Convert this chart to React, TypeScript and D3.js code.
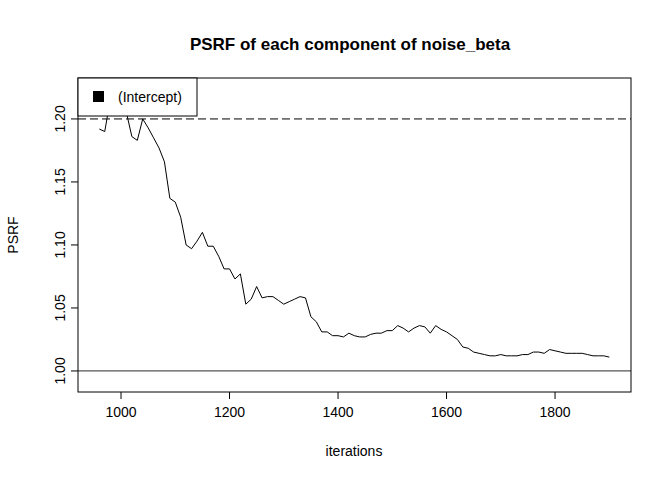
import React from "react";
import * as d3 from "d3";

const iterations = [960,970,980,990,1000,1010,1020,1030,1040,1050,1060,1070,1080,1090,1100,1110,1120,1130,1140,1150,1160,1170,1180,1190,1200,1210,1220,1230,1240,1250,1260,1270,1280,1290,1300,1310,1320,1330,1340,1350,1360,1370,1380,1390,1400,1410,1420,1430,1440,1450,1460,1470,1480,1490,1500,1510,1520,1530,1540,1550,1560,1570,1580,1590,1600,1610,1620,1630,1640,1650,1660,1670,1680,1690,1700,1710,1720,1730,1740,1750,1760,1770,1780,1790,1800,1810,1820,1830,1840,1850,1860,1870,1880,1890,1900];
const psrf = [1.192,1.190,1.215,1.22,1.212,1.205,1.186,1.183,1.200,1.193,1.185,1.177,1.166,1.137,1.134,1.122,1.100,1.097,1.103,1.110,1.099,1.099,1.091,1.081,1.081,1.073,1.077,1.053,1.057,1.067,1.058,1.059,1.059,1.056,1.053,1.055,1.057,1.059,1.058,1.043,1.039,1.031,1.031,1.028,1.028,1.027,1.030,1.028,1.027,1.027,1.029,1.030,1.030,1.032,1.032,1.036,1.034,1.031,1.034,1.036,1.035,1.030,1.036,1.033,1.031,1.028,1.025,1.019,1.018,1.015,1.014,1.013,1.012,1.012,1.013,1.012,1.012,1.012,1.013,1.013,1.015,1.015,1.014,1.017,1.016,1.015,1.014,1.014,1.014,1.014,1.013,1.012,1.012,1.012,1.011];
const xTicks = [1000, 1200, 1400, 1600, 1800];
const yTicks = [1.0, 1.05, 1.1, 1.15, 1.2];

export default function App() {
  const L = 78, R = 631, T = 78, B = 392;
  const x = d3.scaleLinear().domain([920.7, 1940]).range([L, R]);
  const y = d3.scaleLinear().domain([0.9833, 1.2325]).range([B, T]);
  const pts: [number, number][] = iterations.map((it, i) => [it, psrf[i]]);
  const line = d3.line<[number, number]>().x(d => x(d[0])).y(d => y(d[1]));
  const font = "Liberation Sans, Arial, sans-serif";
  return (
    <svg width={672} height={480} style={{ position: "absolute", left: 0, top: 0, background: "#fff" }} fontFamily={font}>
      <defs>
        <clipPath id="c"><rect x={L} y={T} width={R - L} height={B - T} /></clipPath>
      </defs>
      <text x={350} y={50} textAnchor="middle" fontSize={17} fontWeight="bold">PSRF of each component of noise_beta</text>
      <g clipPath="url(#c)">
        <path d={line(pts) || ""} fill="none" stroke="#000" strokeWidth={1} />
        <line x1={L} x2={R} y1={y(1.2)} y2={y(1.2)} stroke="#000" strokeDasharray="8,4" />
        <line x1={L} x2={R} y1={y(1.0)} y2={y(1.0)} stroke="#555" strokeWidth={1.2} />
      </g>
      <rect x={L} y={T} width={R - L} height={B - T} fill="none" stroke="#000" />
      <rect x={L} y={T} width={119} height={38} fill="#fff" stroke="#000" />
      <rect x={93} y={91} width={11} height={11} fill="#000" />
      <text x={118} y={102} fontSize={14}>(Intercept)</text>
      {xTicks.map(t => (
        <g key={t}>
          <line x1={x(t)} x2={x(t)} y1={B} y2={B + 7} stroke="#000" />
          <text x={x(t)} y={B + 25} textAnchor="middle" fontSize={14}>{t}</text>
        </g>
      ))}
      {yTicks.map(t => (
        <g key={t}>
          <line x1={L - 7} x2={L} y1={y(t)} y2={y(t)} stroke="#000" />
          <text transform={`translate(${L - 13},${y(t)}) rotate(-90)`} textAnchor="middle" fontSize={14}>{t.toFixed(2)}</text>
        </g>
      ))}
      <text x={354} y={456} textAnchor="middle" fontSize={14}>iterations</text>
      <text transform={`translate(18,235) rotate(-90)`} textAnchor="middle" fontSize={14}>PSRF</text>
    </svg>
  );
}
